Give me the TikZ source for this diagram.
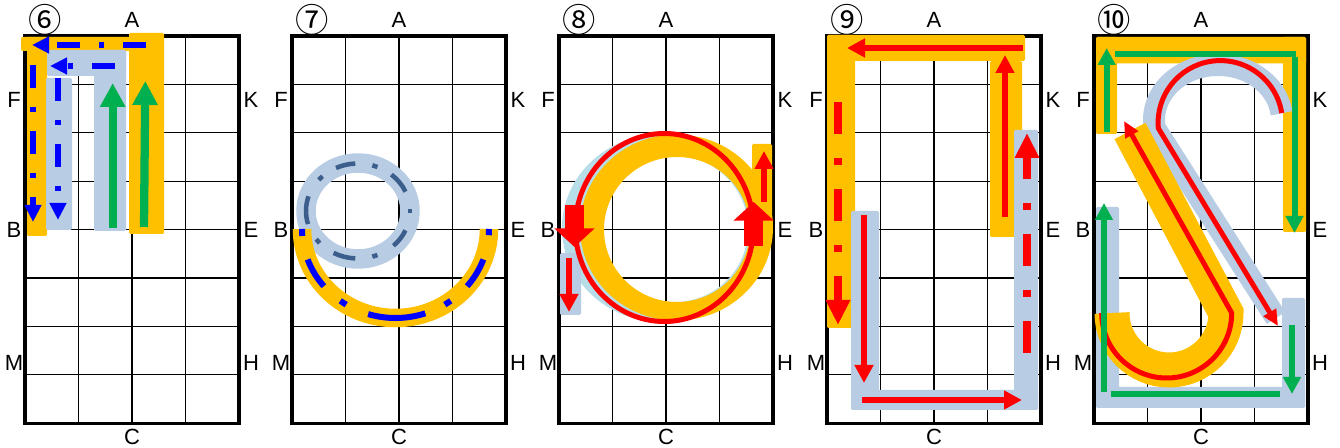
\documentclass[tikz,border=0pt]{standalone}
\usepackage{fontspec}
\setmainfont{Liberation Sans}
\newfontfamily\circfont{Noto Sans CJK JP}
\usetikzlibrary{arrows.meta}

\definecolor{hlorange}{HTML}{FFC000}
\definecolor{hlblue}{HTML}{B8CCE4}
\definecolor{hlcyan}{HTML}{B7DDE8}
\definecolor{arrowblue}{HTML}{0000FF}
\definecolor{ringdash}{RGB}{59,94,140}
\definecolor{arrowgreen}{HTML}{00B050}
\definecolor{arrowred}{HTML}{FF0000}

% one grid of 4 x 8 cells with its side letters
\newcommand{\gridpanel}[3]{%
  \begin{scope}[shift={(#1,36)}]
    \foreach \i in {1,2,3}
      \draw[gridline] (\i*53.5,0) -- (\i*53.5,387.3);
    \foreach \j in {1,...,7}
      \draw[gridline] (0,\j*48.41) -- (214,\j*48.41);
    \draw[gridframe] (0,0) rectangle (214,387.3);
    \node[circnum] (num#2) at (20,-16) {#3};
    \node[lbl] (A#2) at (107,-16) {A};
    \node[lbl] (C#2) at (107,401) {C};
    \node[lbl] (F#2) at (-11,64) {F};
    \node[lbl] (B#2) at (-11,194) {B};
    \node[lbl] (M#2) at (-11,327) {M};
    \node[lbl] (K#2) at (226,64) {K};
    \node[lbl] (E#2) at (226,194) {E};
    \node[lbl] (H#2) at (226,327) {H};
  \end{scope}}

\begin{document}
\begin{tikzpicture}[x=0.75pt,y=-0.75pt]
  \tikzset{
    gridline/.style={line width=0.9pt},
    gridframe/.style={line width=2.4pt},
    lbl/.style={inner sep=0pt, font=\fontsize{16.5}{18}\selectfont},
    circnum/.style={inner sep=0pt, font=\circfont\fontsize{25}{27}\selectfont},
    orangebox/.style={fill=hlorange, rounded corners=1pt},
    bluebox/.style={fill=hlblue, rounded corners=1pt},
    bluedash/.style={draw=arrowblue, line width=4.3pt,
      dash pattern=on 17.25pt off 14.25pt on 3.75pt off 14.25pt,
      -{Triangle[width=12pt,length=12.75pt]}},
    greenthick/.style={draw=arrowgreen, line width=6.2pt,
      -{Triangle[width=18pt,length=18pt]}},
    greenarrow/.style={draw=arrowgreen, line width=4.5pt,
      -{Triangle[width=12.75pt,length=12.75pt]}},
    greenline/.style={draw=arrowgreen, line width=4.5pt},
    ringpiece/.style={draw=ringdash, line width=3.4pt},
    arcpiece/.style={draw=arrowblue, line width=4.5pt},
    redarrow/.style={draw=arrowred, line width=4.4pt,
      -{Triangle[width=13.5pt,length=13.5pt]}},
    reddash/.style={draw=arrowred, line width=6pt,
      dash pattern=on 24pt off 18pt on 5.25pt off 18pt,
      -{Triangle[width=17.25pt,length=18.75pt]}},
    redline/.style={draw=arrowred, line width=3.75pt,
      -{Triangle[width=10.5pt,length=12pt]}},
    blockarrow/.style={draw=arrowred, line width=14.4pt,
      -{Triangle[width=29.5pt,length=14pt]}},
  }
  \useasboundingbox (0,0) rectangle (1340,448);

  % panel 6
  \gridpanel{25}{6}{⑥}
  \fill[orangebox] (21,37) rectangle (163,51);
  \fill[orangebox] (27,37) rectangle (47,236);
  \fill[orangebox] (129,33) rectangle (164,234);
  \fill[bluebox] (47,50) rectangle (126,76);
  \fill[bluebox] (46,78) rectangle (72,230);
  \fill[bluebox] (94,50) rectangle (126,231);
  \draw[bluedash] (146,45) -- (32,45);
  \draw[bluedash] (33,65) -- (33,222);
  \draw[bluedash] (115,66) -- (50,66);
  \draw[bluedash] (58,78) -- (58,220);
  \draw[greenthick] (112.7,228) -- (112.7,83);
  \draw[greenthick] (144,227) -- (145.3,81);

  % panel 7
  \gridpanel{292}{7}{⑦}
  \draw[hlblue, line width=14.6pt] (358,211) ellipse [x radius=52, y radius=48];
  \draw[hlorange, line width=13.9pt] (489,229)
    arc[start angle=0, end angle=180, x radius=93.5, y radius=89];
  \foreach \a/\b in {24/47, 93/118, 164/198, 245/267, 310/336}
    \draw[ringpiece] (358,211) ++(\a:52 and 47.5)
      arc[start angle=\a, end angle=\b, x radius=52, y radius=47.5];
  \foreach \c in {0, 71, 140.5, 224, 289}
    \draw[ringpiece] (358,211) ++(\c-3:52 and 47.5)
      arc[start angle=\c-3, end angle=\c+3, x radius=52, y radius=47.5];
  \foreach \a/\b in {0/4, 20/40, 53.8/58.2, 71.4/107, 121.8/126.2, 140/160, 175.5/180}
    \draw[arcpiece] (395.5,229) ++(\a:93.5 and 89)
      arc[start angle=\a, end angle=\b, x radius=93.5, y radius=89];

  % panel 8
  \gridpanel{559}{8}{⑧}
  \fill[hlcyan, even odd rule] (662,228) ellipse [x radius=100, y radius=94]
    (675,229) ellipse [x radius=73, y radius=73];
  \fill[hlorange, even odd rule] (676.5,227.5) ellipse [x radius=96.5, y radius=93]
    (677,229.5) ellipse [x radius=73, y radius=72.5];
  \fill[orangebox] (752,144) rectangle (772,215);
  \fill[bluebox] (560,253) rectangle (581,315);
  \draw[arrowred, line width=3.75pt] (664.3,227.5) ellipse [x radius=89, y radius=94];
  \draw[blockarrow] (574.5,205) -- (574.5,247);
  \draw[blockarrow] (753.7,246) -- (753.7,202);
  \draw[redarrow] (569,258) -- (569,312);
  \draw[redarrow] (764,202) -- (764,151);

  % panel 9
  \gridpanel{827}{9}{⑨}
  \fill[orangebox] (827,35) rectangle (1025,61);
  \fill[orangebox] (827,35) rectangle (855,328);
  \fill[orangebox] (990,61) rectangle (1022,237);
  \fill[bluebox] (851,211) rectangle (879,408);
  \fill[bluebox] (851,390) rectangle (1038,410);
  \fill[bluebox] (1014,130) rectangle (1038,410);
  \draw[redarrow] (1023,48) -- (847,48);
  \draw[reddash] (838,102) -- (838,325);
  \draw[redarrow] (1005,217) -- (1005,55);
  \draw[redarrow] (864,215) -- (864,383);
  \draw[redarrow] (862,400) -- (1022,400);
  \draw[reddash] (1027,353) -- (1027,133);

  % panel 10
  \gridpanel{1094}{10}{⑩}
  \fill[orangebox] (1096,37) rectangle (1306,63.5);
  \fill[orangebox] (1096,37) rectangle (1117,134);
  \fill[orangebox] (1283,37) rectangle (1306,232);
  \fill[bluebox] (1096,207) rectangle (1119,408);
  \fill[bluebox] (1096,387) rectangle (1305,408);
  \fill[bluebox] (1282,298) rectangle (1305,408);
  \draw[hlblue, line width=16.5pt] (1218,120) ++(-7:64 and 55)
    arc[start angle=-7, end angle=-188, x radius=64, y radius=55] -- (1276,318);
  \draw[hlorange, line width=26.25pt] (1169,313) ++(180:57)
    arc[start angle=180, end angle=0, radius=57] -- (1130,131);
  \draw[redline] (1166.7,313) ++(180:65)
    arc[start angle=180, end angle=0, radius=65] -- (1124,121);
  \draw[redline] (1220.3,122.8) ++(-9:62.2)
    arc[start angle=-9, end angle=-185, radius=62.2] -- (1278,326);
  \draw[greenarrow] (1106.7,132) -- (1106.7,48);
  \draw[greenline] (1115,53.7) -- (1296,53.7);
  \draw[greenarrow] (1294.5,57) -- (1294.5,233);
  \draw[greenarrow] (1104,392) -- (1104,203);
  \draw[greenline] (1110.7,394.5) -- (1280,394.5);
  \draw[greenarrow] (1292,325) -- (1292,394);
\end{tikzpicture}
\end{document}
